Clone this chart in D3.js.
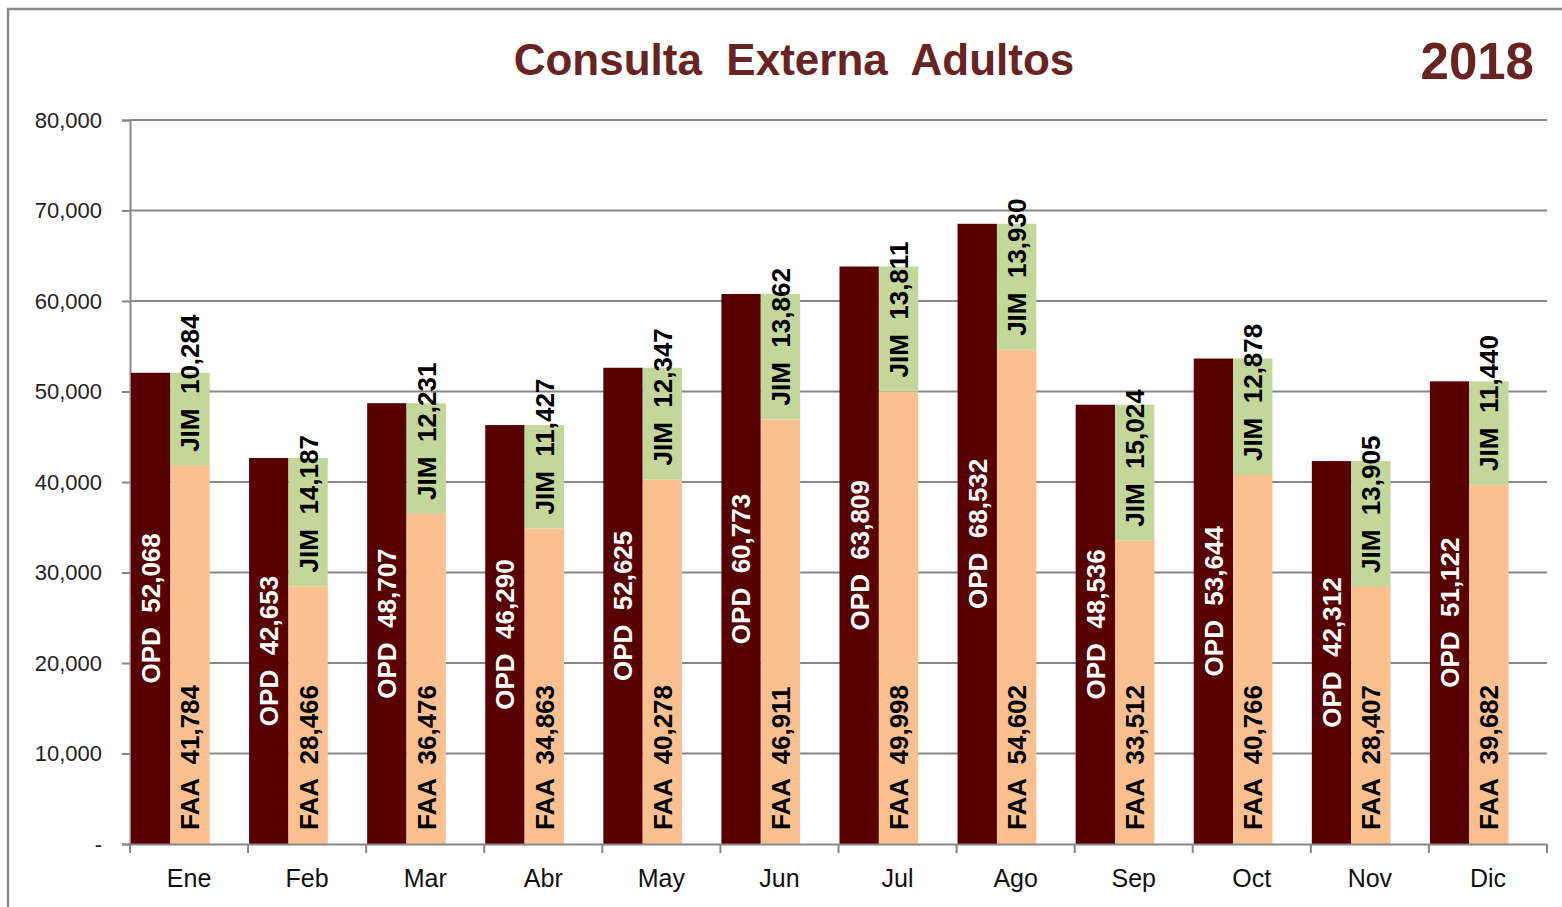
<!DOCTYPE html>
<html>
<head>
<meta charset="utf-8">
<script src="https://cdn.jsdelivr.net/npm/d3@7"></script>
<style>
  body { margin: 0; background: #fff; }
  svg { font-family: "Liberation Sans", Arial, sans-serif; }
  .lbl { white-space: pre; font-weight: bold; }
</style>
</head>
<body>
<svg id="chart" width="1562" height="907"></svg>
<script>
// data
const months = ['Ene','Feb','Mar','Abr','May','Jun','Jul','Ago','Sep','Oct','Nov','Dic'];
const opd = [52068, 42653, 48707, 46290, 52625, 60773, 63809, 68532, 48536, 53644, 42312, 51122];
const faa = [41784, 28466, 36476, 34863, 40278, 46911, 49998, 54602, 33512, 40766, 28407, 39682];
const jim = [10284, 14187, 12231, 11427, 12347, 13862, 13811, 13930, 15024, 12878, 13905, 11440];
const yTicks = [0, 10000, 20000, 30000, 40000, 50000, 60000, 70000, 80000];

const colours = {opd: '#580000', faa: '#fac08f', jim: '#c4d79b'};
const gridColour = '#878787';

const svg = d3.select('#chart');

// outer frame
svg.append('rect')
    .attr('x', 8).attr('y', 9)
    .attr('width', 1600).attr('height', 960)
    .attr('fill', 'none')
    .attr('stroke', '#8a8a8a')
    .attr('stroke-width', 2.5);

const plot = {left: 130, right: 1547, top: 120, bottom: 844};

const x = d3.scaleBand()
            .domain(months)
            .range([plot.left, plot.right]);

const sub = d3.scaleBand()
            .domain(['opd', 'stack', 'gap'])
            .range([1, x.bandwidth() + 1]);

const y = d3.scaleLinear()
            .domain([0, 80000])
            .range([plot.bottom, plot.top]);

// gridlines
svg.append('g')
    .selectAll('line')
        .data(yTicks.filter(d => d > 0))
    .enter()
    .append('line')
        .attr('x1', plot.left).attr('x2', plot.right)
        .attr('y1', d => y(d)).attr('y2', d => y(d))
        .attr('stroke', gridColour)
        .attr('stroke-width', 2);

// y axis
const fmt = d3.format(',');
const yAxis = svg.append('g')
    .attr('transform', `translate(${plot.left},0)`)
    .call(d3.axisLeft(y)
            .tickValues(yTicks)
            .tickSize(8)
            .tickPadding(20)
            .tickFormat(d => d === 0 ? '-' : fmt(d)));

yAxis.select('.domain').attr('stroke', gridColour).attr('stroke-width', 2);
yAxis.selectAll('.tick line').attr('stroke', gridColour).attr('stroke-width', 2);
yAxis.selectAll('.tick text')
    .attr('fill', '#222')
    .style('font-size', '22px')
    .style('font-family', '"Liberation Sans", Arial, sans-serif');

// bars
const rows = months.map((m, i) => ({month: m, opd: opd[i], faa: faa[i], jim: jim[i]}));

const groups = svg.append('g')
    .selectAll('.month')
        .data(rows)
    .enter()
    .append('g')
        .classed('month', true)
        .attr('transform', d => `translate(${x(d.month)},0)`);

groups.append('rect')
    .attr('x', sub('opd'))
    .attr('width', sub.bandwidth())
    .attr('y', d => y(d.opd))
    .attr('height', d => y(0) - y(d.opd))
    .attr('fill', colours.opd);

groups.append('rect')
    .attr('x', sub('stack'))
    .attr('width', sub.bandwidth())
    .attr('y', d => y(d.faa))
    .attr('height', d => y(0) - y(d.faa))
    .attr('fill', colours.faa);

groups.append('rect')
    .attr('x', sub('stack'))
    .attr('width', sub.bandwidth())
    .attr('y', d => y(d.faa + d.jim))
    .attr('height', d => y(d.faa) - y(d.faa + d.jim))
    .attr('fill', colours.jim);

// x axis
const xAxis = svg.append('g')
    .attr('transform', `translate(0,${plot.bottom})`)
    .call(d3.axisBottom(x).tickSize(0).tickPadding(25));

xAxis.select('.domain').attr('stroke', gridColour).attr('stroke-width', 2);
xAxis.selectAll('.tick text')
    .attr('fill', '#111')
    .style('font-size', '25px')
    .style('font-family', '"Liberation Sans", Arial, sans-serif');

xAxis.selectAll('.sep')
        .data(months.concat(['end']))
    .enter()
    .append('line')
        .classed('sep', true)
        .attr('x1', (d, i) => plot.left + i * x.bandwidth())
        .attr('x2', (d, i) => plot.left + i * x.bandwidth())
        .attr('y1', 0).attr('y2', 9)
        .attr('stroke', gridColour)
        .attr('stroke-width', 2);

// bar labels (rotated)
const labelSize = 26;
const cx = key => sub(key) + sub.bandwidth() / 2;

function vLabel(sel, xPos, yPos, anchor, colour, text) {
    sel.append('text')
        .classed('lbl', true)
        .attr('transform', d => `translate(${xPos(d)},${yPos(d)}) rotate(-90)`)
        .attr('text-anchor', anchor)
        .attr('dy', '0.36em')
        .attr('fill', colour)
        .style('font-size', labelSize + 'px')
        .text(text);
}

vLabel(groups, () => cx('opd'), d => (y(0) + y(d.opd)) / 2, 'middle', '#fff',
       d => 'OPD  ' + fmt(d.opd));
vLabel(groups, () => cx('stack'), () => y(0) - 14, 'start', '#000',
       d => 'FAA  ' + fmt(d.faa));
vLabel(groups, () => cx('stack'), d => y(d.faa) - 14, 'start', '#000',
       d => 'JIM  ' + fmt(d.jim));

// titles
svg.append('text')
    .attr('x', 794).attr('y', 75)
    .attr('text-anchor', 'middle')
    .attr('fill', '#6a2323')
    .style('font-weight', 'bold')
    .style('font-size', '44px')
    .style('white-space', 'pre')
    .text('Consulta  Externa  Adultos');

svg.append('text')
    .attr('x', 1534).attr('y', 79)
    .attr('text-anchor', 'end')
    .attr('fill', '#6a2323')
    .style('font-weight', 'bold')
    .style('font-size', '51px')
    .text('2018');
</script>
</body>
</html>
